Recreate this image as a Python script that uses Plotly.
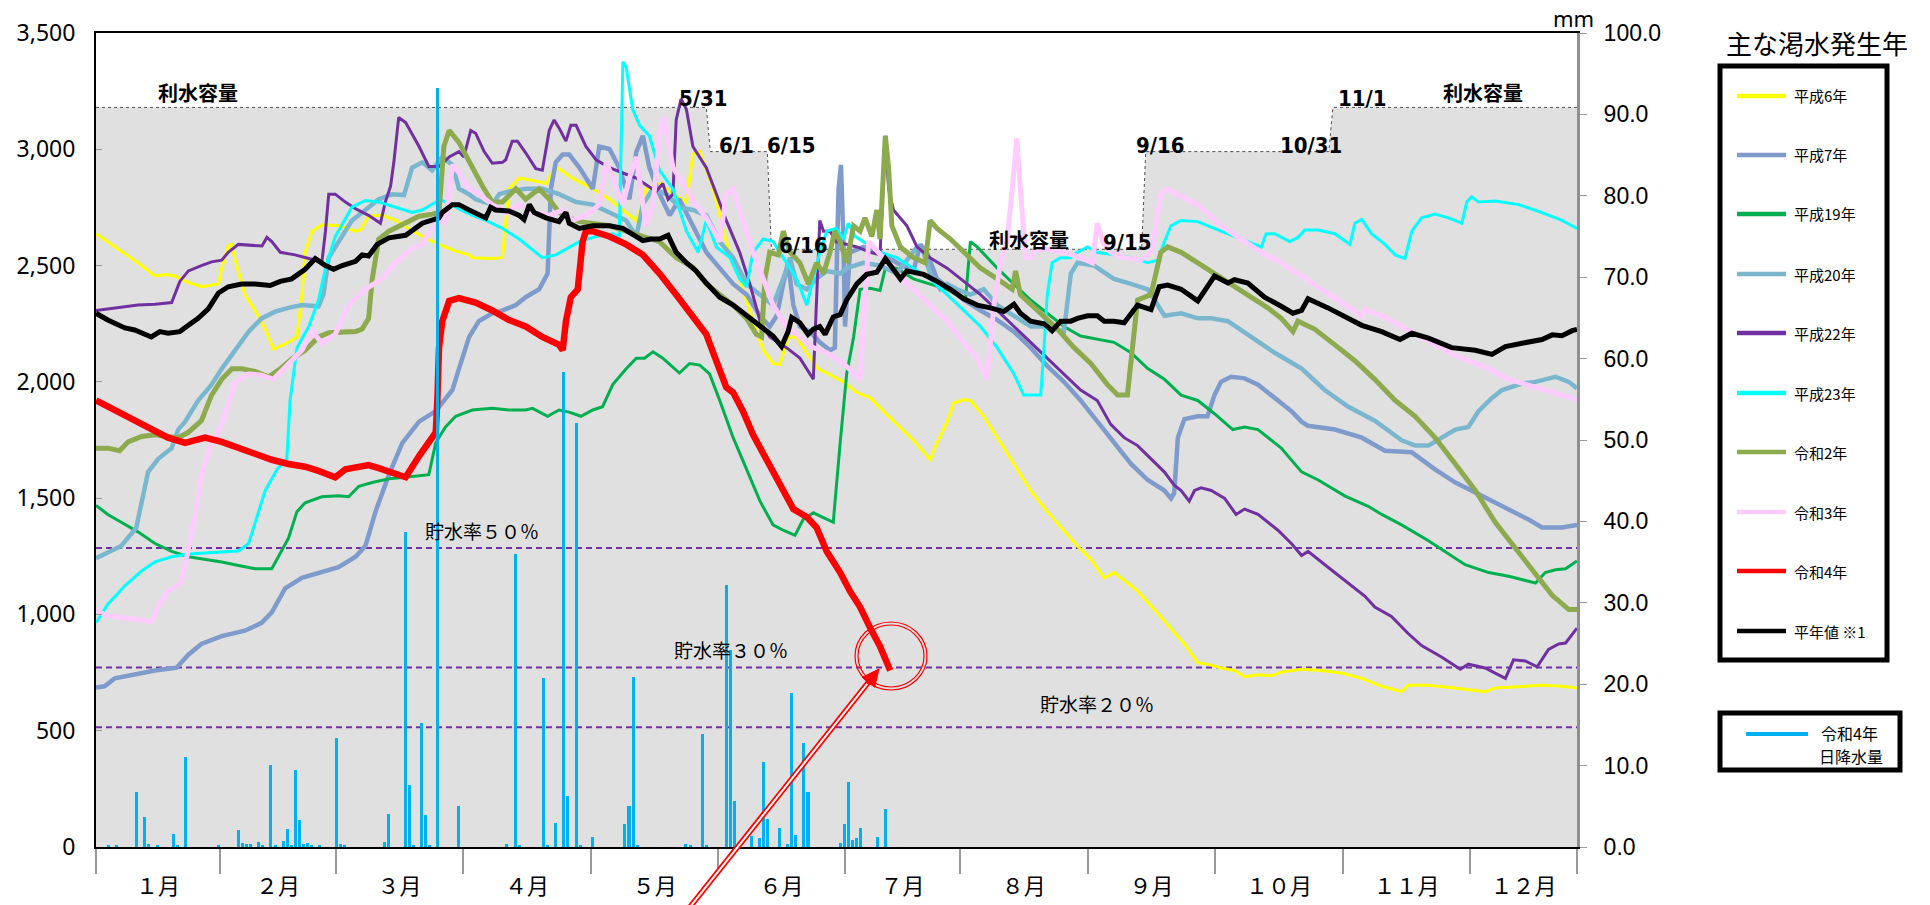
import plotly.graph_objects as go

# ---------------- data ----------------
MONTH_LABELS = ["１月", "２月", "３月", "４月", "５月", "６月", "７月", "８月", "９月", "１０月", "１１月", "１２月"]
MONTH_EDGES = [1, 31.5, 60, 91.2, 122.7, 153.9, 185.1, 213.3, 244.8, 276, 307.5, 338.7, 365]

# 利水容量 (step) : day-of-year / value
CAP_DAYS = [1, 151, 152, 166, 167, 258, 259, 304, 305, 365]
CAP_VALS = [3180, 3180, 2990, 2990, 2570, 2570, 2990, 2990, 3180, 3180]

RATIO_LEVELS = [1286, 771.6, 514.4]
RATIO_LABELS = ["貯水率５０％", "貯水率３０％", "貯水率２０％"]

# 令和4年 日降水量 (mm)
RAIN_DAYS = [4, 6, 11, 13, 14, 16, 20, 21, 23, 31, 36, 37, 38, 39, 41, 42, 44, 45, 47, 48, 49, 50, 51, 52, 53,
             54, 56, 60, 61, 62, 72, 73, 77, 78, 79, 81, 82, 83, 85, 90, 102, 104, 105, 111, 112, 114, 116, 117,
             119, 120, 123, 131, 132, 133, 134, 146, 147, 150, 151, 156, 157, 158, 162, 164, 165, 166, 169, 171,
             172, 173, 175, 176, 184, 185, 186, 187, 188, 189, 193, 195]
RAIN_MM = [0.3, 0.3, 6.7, 3.7, 0.4, 0.3, 1.6, 0.3, 11.0, 0.3, 2.1, 0.5, 0.4, 0.4, 0.6, 0.3, 10.1, 0.3, 0.7, 2.2, 0.3,
           9.5, 3.3, 0.4, 0.5, 0.3, 0.3, 13.4, 0.4, 0.3, 0.6, 4.1, 38.7, 7.6, 0.3, 15.2, 3.9, 0.3, 93.2, 5.0, 0.4,
           36.0, 0.3, 20.8, 0.3, 2.9, 58.3, 6.3, 52.1, 0.3, 1.2, 2.8, 5.0, 20.9, 0.3, 0.4, 0.3, 13.9, 0.3, 32.2,
           24.2, 5.6, 1.4, 1.1, 10.5, 3.5, 2.3, 0.4, 18.9, 1.5, 12.8, 6.7, 0.5, 2.8, 8.0, 0.9, 1.1, 2.3, 1.2, 4.7]

# 貯水量 series : (day-of-year, value)
H6 = [(1, 2637), (3.9, 2603), (7.2, 2562), (11.3, 2512), (15.5, 2455), (18.3, 2462), (20.4, 2455), (23.7, 2427),
      (27, 2409), (31.1, 2421), (31.9, 2489), (33.5, 2584), (34.3, 2591), (35.2, 2523), (37.6, 2375), (40.1, 2307),
      (42.6, 2227), (44.6, 2141), (47.5, 2163), (50.4, 2193), (51.6, 2375), (52.4, 2557), (54.1, 2648), (56.5, 2675),
      (60.6, 2671), (64.8, 2648), (66, 2653), (68, 2712), (71.3, 2716), (74.6, 2694), (77.9, 2660), (81.2, 2625),
      (85.3, 2591), (89.4, 2562), (92.7, 2546), (93.5, 2534), (98.4, 2530), (100.9, 2534), (102.5, 2830),
      (105, 2876), (109.1, 2864), (111.6, 2853), (114, 2926), (118.1, 2876), (123.1, 2830), (127.2, 2785),
      (131.3, 2728), (133.8, 2694), (135, 2751), (136.2, 2830), (139.5, 2853), (142.8, 2807), (146.1, 2773),
      (147.7, 2978), (149.4, 2990), (152.7, 2830), (155.9, 2603), (159.2, 2443), (162.5, 2261), (165, 2136),
      (167.4, 2079), (169.1, 2075), (171.1, 2193), (173.2, 2193), (175.7, 2125), (178.5, 2056), (180.6, 2038),
      (184.7, 2000), (188, 1954), (191.3, 1931), (194.5, 1874), (197.8, 1817), (201.9, 1749), (206, 1665),
      (207.7, 1738), (210.2, 1829), (211.8, 1909), (214.3, 1924), (215.9, 1920), (219.2, 1852), (222.5, 1760),
      (226.6, 1647), (230.7, 1533), (234.8, 1442), (238.9, 1362), (242.2, 1294), (245.5, 1237), (248.8, 1157),
      (251.2, 1180), (253.7, 1146), (257, 1101), (261.1, 1021), (265.2, 941), (268.5, 873), (271.8, 793),
      (275.1, 782), (277.5, 770), (280.8, 759), (283.3, 732), (286.6, 741), (289.9, 736), (292.3, 752),
      (297.3, 764), (302.2, 759), (307.1, 748), (312.1, 725), (317, 691), (321.9, 668), (323.5, 695), (328.5, 695),
      (335, 684), (342.4, 668), (344.9, 684), (351.5, 691), (356.4, 695), (361.3, 691), (365, 684)]

H7 = [(1, 686), (3.1, 691), (5.6, 725), (9.7, 741), (15.5, 759), (20.8, 771), (23.7, 827), (26.9, 873), (31.9, 907),
      (37.6, 930), (41.7, 964), (44.2, 1009), (47.5, 1112), (51.6, 1157), (56.5, 1180), (60.6, 1203), (64.8, 1248),
      (67.2, 1294), (69.7, 1442), (73, 1601), (76.3, 1738), (80.4, 1829), (84.5, 1874), (88.6, 1965), (90.2, 2056),
      (92.7, 2193), (95.1, 2261), (98.4, 2295), (100.9, 2307), (104.2, 2330), (106.6, 2364), (109.9, 2398),
      (112, 2466), (112.8, 2830), (114, 2944), (115.7, 2978), (117.3, 2978), (119.8, 2921), (123.1, 2830),
      (124.7, 3012), (127.2, 3001), (129.6, 2921), (132.1, 2785), (133.8, 2989), (135.4, 3058), (137, 2921),
      (139.5, 2807), (142, 2716), (144.4, 2785), (147.7, 2671), (151, 2557), (154.3, 2489), (157.6, 2421),
      (160.9, 2375), (164.2, 2284), (166.6, 2238), (168.3, 2284), (169.9, 2421), (171.1, 2512), (172.4, 2330),
      (174, 2238), (176.5, 2216), (178.9, 2170), (181.4, 2136), (182.6, 2147), (183.5, 2830), (184.1, 2933),
      (184.7, 2603), (185.1, 2238), (186.3, 2557), (189.6, 2580), (193.7, 2557), (197.8, 2512), (201.9, 2477),
      (203.6, 2591), (205.2, 2557), (207.7, 2443), (211, 2398), (214.3, 2352), (218.4, 2307), (222.5, 2266),
      (226.6, 2216), (230.7, 2147), (234.8, 2068), (238.9, 2000), (243, 1920), (247.1, 1829), (251.2, 1738),
      (255.4, 1647), (259.5, 1578), (263.6, 1533), (265.2, 1499), (266, 1522), (266.9, 1760), (268.5, 1840),
      (271.8, 1852), (274.2, 1852), (275.9, 1943), (277.5, 2000), (280, 2022), (283.3, 2015), (286.6, 1988),
      (290.7, 1931), (294.8, 1874), (297.3, 1829), (298.9, 1811), (305.5, 1795), (312.1, 1760), (317.8, 1704),
      (324.4, 1697), (330.1, 1624), (335.1, 1567), (341.6, 1510), (348.2, 1453), (353.1, 1408), (356.4, 1374),
      (361.3, 1374), (365, 1385)]

H19 = [(1, 1469), (3.9, 1430), (7.2, 1396), (11.3, 1355), (15.5, 1305), (19.6, 1271), (23.7, 1248), (27.8, 1237),
       (31.9, 1225), (36, 1210), (40.1, 1196), (44.2, 1196), (45.9, 1248), (48.3, 1328), (50.4, 1442), (52.4, 1480),
       (56.5, 1506), (60.6, 1510), (63.1, 1506), (65.6, 1551), (68.9, 1567), (73, 1583), (77.1, 1590), (81.2, 1597),
       (82.8, 1601), (84.5, 1738), (86.9, 1806), (89.4, 1852), (92.7, 1874), (93.5, 1879), (98.4, 1886),
       (102.5, 1879), (106.6, 1879), (108.3, 1886), (112, 1852), (114.8, 1879), (117.3, 1870), (120.2, 1852),
       (123.1, 1879), (125.5, 1893), (128, 1988), (131.3, 2056), (133.8, 2102), (135.8, 2102), (137.9, 2129),
       (140.3, 2102), (144.4, 2038), (146.9, 2079), (149.4, 2072), (151.8, 2034), (154.3, 1920), (157.6, 1760),
       (160.9, 1624), (164.2, 1487), (167.4, 1385), (169.9, 1362), (172.8, 1340), (174.8, 1408), (177.3, 1437),
       (179.8, 1415), (182.2, 1396), (183.9, 1738), (185.5, 2034), (187.2, 2193), (188.8, 2398), (191.3, 2402),
       (193.7, 2393), (195, 2489), (197.8, 2489), (201.9, 2443), (206, 2421), (210.2, 2398), (213.4, 2364),
       (214.7, 2352), (215.9, 2603), (217.6, 2580), (222.5, 2489), (226.6, 2421), (230.7, 2352), (234.8, 2295),
       (238.9, 2238), (243, 2197), (247.1, 2182), (251.2, 2170), (255.4, 2125), (259.5, 2057), (263.6, 2011),
       (267.7, 1943), (271.8, 1920), (275.9, 1863), (280.4, 1795), (283.3, 1806), (286.6, 1795), (292.3, 1715),
       (297.3, 1613), (301.4, 1578), (307.9, 1510), (313.7, 1465), (317, 1430), (321.9, 1385), (328.5, 1317),
       (333.4, 1260), (337.5, 1214), (343.3, 1180), (348.2, 1164), (354.8, 1135), (357.2, 1180), (359.7, 1192),
       (362.2, 1196), (365, 1230)]

H20 = [(1, 1242), (3.9, 1264), (7.2, 1294), (10.9, 1373), (12.2, 1487), (13.8, 1612), (16.3, 1669), (19.6, 1715),
       (21.2, 1795), (22.9, 1829), (26.1, 1920), (29.4, 1988), (31.9, 2056), (35.2, 2136), (38.5, 2216),
       (41.7, 2273), (45, 2302), (48.3, 2318), (51.6, 2330), (55.7, 2325), (56.9, 2375), (58.2, 2534), (60.6, 2603),
       (63.9, 2694), (67.2, 2739), (70.5, 2785), (73.8, 2807), (76.7, 2803), (78.7, 2921), (81.2, 2944),
       (83.6, 2910), (86.1, 2967), (88.6, 2933), (90.2, 2830), (92.7, 2807), (94.3, 2785), (98.4, 2762),
       (100.1, 2807), (102.5, 2819), (106.6, 2830), (110.7, 2830), (114.8, 2807), (119, 2773), (123.1, 2762),
       (127.2, 2728), (131.3, 2694), (133.8, 2625), (135.4, 2762), (137.9, 2830), (141.2, 2807), (144.4, 2751),
       (147.7, 2739), (151, 2716), (154.3, 2603), (157.6, 2534), (160.9, 2421), (164.2, 2375), (167.4, 2330),
       (169.9, 2443), (171.6, 2534), (173.2, 2421), (175.7, 2398), (178.1, 2443), (180.6, 2477), (183.9, 2466),
       (185.5, 2489), (189.6, 2512), (193.7, 2500), (197.8, 2466), (202.8, 2580), (204.4, 2557), (206, 2466),
       (208.5, 2398), (210.2, 2421), (212.6, 2398), (215.9, 2375), (219.2, 2398), (222.5, 2330), (226.6, 2284),
       (230.7, 2238), (234.8, 2238), (237.3, 2227), (238.9, 2216), (240.6, 2466), (242.2, 2512), (246.3, 2500),
       (251.2, 2443), (255.4, 2421), (259.5, 2398), (263.6, 2284), (267.7, 2295), (271.8, 2273), (275.1, 2273),
       (279.2, 2261), (284.9, 2193), (290.7, 2125), (297.3, 2057), (303, 1965), (308.8, 1893), (315.3, 1833),
       (321.9, 1749), (325.2, 1726), (328.5, 1726), (331.8, 1760), (335.1, 1795), (338.3, 1806), (340.8, 1874),
       (344.1, 1931), (346.6, 1965), (351.5, 1993), (354.8, 2000), (359.7, 2022), (363, 2000), (365, 1972)]

H22 = [(1, 2307), (5.6, 2318), (11.3, 2330), (15.5, 2334), (19.6, 2341), (21.6, 2432), (23.7, 2477), (26.9, 2500),
       (29.4, 2516), (31.9, 2523), (33.5, 2557), (36, 2591), (40.1, 2584), (41.8, 2584), (43, 2621), (44.2, 2603),
       (46.3, 2557), (49.9, 2546), (54.9, 2523), (56.5, 2512), (57.4, 2648), (58.2, 2807), (59.8, 2807),
       (62.3, 2773), (64.8, 2744), (68, 2716), (70.9, 2682), (72.1, 2773), (73.4, 2841), (74.2, 2944),
       (75.4, 3137), (77.1, 3115), (80.4, 3012), (82.8, 2926), (85.3, 2926), (87.8, 2967), (90.2, 2990),
       (91.4, 2967), (93.1, 3081), (94.3, 3069), (96.4, 2990), (98.4, 2940), (100.9, 2944), (101.7, 2955),
       (103.3, 3035), (104.6, 3035), (106.6, 2985), (109.1, 2917), (110.7, 2910), (112.4, 3081), (113.6, 3126),
       (114.8, 3092), (116.5, 3035), (117.7, 3103), (119, 3103), (121.4, 3012), (123.9, 2955), (127.2, 2921),
       (130.5, 2898), (133.8, 2876), (136.2, 2848), (138.7, 2819), (140.3, 2853), (141.6, 2785), (142.8, 2807),
       (143.6, 3126), (144.8, 3217), (146.1, 3172), (147.7, 3012), (151, 2921), (153.5, 2807), (155.9, 2694),
       (159.2, 2557), (161.7, 2421), (164.2, 2261), (166.6, 2193), (170.7, 2147), (174, 2102), (177.3, 2011),
       (178.1, 2330), (178.9, 2694), (179.8, 2648), (181.4, 2648), (183, 2603), (185.5, 2591), (188, 2580),
       (191.3, 2557), (193.7, 2546), (195, 3058), (195.8, 2830), (197, 2739), (200.3, 2671), (202.8, 2580),
       (206, 2534), (210.2, 2489), (214.3, 2432), (218.4, 2375), (222.5, 2307), (226.6, 2238), (230.7, 2170),
       (234.8, 2102), (238.9, 2034), (243, 1965), (247.1, 1920), (250.4, 1817), (253.7, 1760), (257, 1726),
       (260.3, 1669), (263.6, 1612), (266, 1556), (267.7, 1533), (269.7, 1487), (271, 1533), (272.6, 1544),
       (275.1, 1533), (278.4, 1499), (281.2, 1430), (283.3, 1453), (286.6, 1430), (291.5, 1362), (294.8, 1305),
       (297.3, 1253), (298.9, 1271), (303.8, 1203), (308.8, 1135), (312.9, 1078), (315.3, 1032), (319.4, 991),
       (323.5, 918), (326.8, 866), (331.8, 816), (336.3, 764), (338.3, 786), (342.4, 770), (347.4, 725),
       (349.4, 805), (352.3, 800), (355.2, 775), (358, 850), (360.5, 873), (362.2, 877), (365, 941)]

H23 = [(1, 964), (3.9, 1044), (8.1, 1123), (12.2, 1187), (15.5, 1226), (19.6, 1248), (23.7, 1260), (27.8, 1264),
       (31.9, 1269), (36, 1273), (38.5, 1305), (40.1, 1396), (42.6, 1533), (45.5, 1624), (47.9, 1669), (48.7, 1920),
       (50.4, 2147), (53.3, 2238), (55.7, 2352), (57.4, 2489), (59.8, 2625), (63.9, 2751), (67.2, 2780),
       (70.5, 2773), (74.6, 2751), (78.7, 2728), (81.2, 2739), (84.5, 2773), (86.1, 2780), (88.6, 2762),
       (90.2, 2744), (93.5, 2716), (96.8, 2694), (100.9, 2660), (105, 2614), (108.3, 2569), (110.7, 2534),
       (114, 2546), (116.5, 2569), (119.8, 2603), (123.9, 2625), (128, 2637), (129.6, 2625), (130.5, 3376),
       (131.3, 3354), (132.9, 3172), (134.6, 3103), (137, 3058), (139.5, 2910), (142.8, 2830), (146.1, 2648),
       (149, 2557), (151, 2694), (153.5, 2580), (156.8, 2534), (159.2, 2443), (160.9, 2409), (162.5, 2557),
       (165, 2614), (167.4, 2603), (169.9, 2534), (173.2, 2443), (175.7, 2330), (177.3, 2443), (178.9, 2557),
       (180.6, 2648), (183, 2660), (184.7, 2614), (185.9, 2682), (187.6, 2625), (189.6, 2603), (193.7, 2557),
       (197.8, 2534), (201.9, 2489), (206, 2443), (210.2, 2375), (214.3, 2307), (218.4, 2238), (222.5, 2147),
       (226.6, 2034), (229, 1943), (230.7, 1943), (233.2, 1943), (234, 2147), (234.8, 2375), (236, 2512),
       (238.1, 2534), (240.6, 2534), (242.2, 2557), (244.7, 2580), (247.1, 2557), (251.2, 2546), (255.4, 2534),
       (259.5, 2512), (262, 2523), (263.6, 2603), (265.2, 2671), (267.7, 2694), (271.8, 2689), (277.5, 2648),
       (282.5, 2614), (287.4, 2580), (288.6, 2637), (290.7, 2637), (294.4, 2603), (296.4, 2621), (298.1, 2653),
       (301.4, 2653), (305.5, 2637), (309.2, 2591), (310.4, 2682), (312.1, 2698), (314.5, 2637), (317.8, 2591),
       (320.3, 2546), (322.7, 2530), (324.4, 2648), (326.8, 2705), (330.1, 2721), (333.4, 2705), (336.7, 2682),
       (337.9, 2773), (339.1, 2796), (340.8, 2773), (344.9, 2778), (350.7, 2762), (356.4, 2728), (361.3, 2694),
       (365, 2660)]

R2 = [(1, 1715), (3.9, 1715), (6.8, 1704), (8.9, 1742), (12.2, 1765), (15.5, 1772), (18.7, 1765), (21.2, 1760),
      (23.7, 1783), (26.9, 1833), (29.4, 1943), (31.9, 2011), (34.4, 2056), (36.8, 2056), (40.1, 2045),
      (43.4, 2022), (46.3, 2056), (49.1, 2098), (52.4, 2136), (55.7, 2193), (58.2, 2211), (61.5, 2216),
      (64.8, 2216), (66.4, 2227), (68, 2273), (68.9, 2443), (70.5, 2614), (73, 2648), (77.1, 2682), (80.4, 2712),
      (83.7, 2721), (85.3, 2728), (86.5, 3012), (87.8, 3081), (90.2, 3030), (93.5, 2921), (96, 2841), (98.4, 2773),
      (100.9, 2773), (104.2, 2830), (106.6, 2785), (109.9, 2830), (112.4, 2785), (114.8, 2728), (117.3, 2705),
      (119.8, 2689), (123.1, 2682), (127.2, 2671), (131.3, 2648), (135.4, 2625), (139.5, 2603), (143.6, 2534),
      (147.7, 2493), (151, 2421), (154.3, 2375), (157.6, 2330), (160.9, 2273), (163.3, 2204), (164.6, 2193),
      (165.4, 2443), (166.6, 2557), (168.7, 2546), (169.9, 2648), (171.6, 2557), (174, 2512), (176.1, 2421),
      (178.1, 2512), (179.8, 2466), (181.4, 2557), (182.6, 2648), (183.9, 2603), (185.5, 2512), (187.2, 2671),
      (188.8, 2648), (190, 2705), (191.7, 2625), (192.9, 2739), (193.7, 2614), (195, 3058), (195.8, 2921),
      (196.6, 2671), (198.7, 2580), (201.9, 2534), (204.8, 2512), (206, 2694), (207.7, 2660), (211, 2614),
      (214.3, 2557), (218.4, 2489), (222.5, 2443), (226.2, 2398), (227, 2477), (228.2, 2375), (232.4, 2307),
      (237.3, 2227), (241.4, 2147), (245.5, 2079), (249.6, 1988), (252.1, 1943), (254.5, 1943), (255.8, 2147),
      (257, 2352), (260.3, 2375), (262.7, 2557), (264.4, 2580), (267.7, 2557), (271.8, 2512), (276.7, 2455),
      (280.8, 2409), (284.9, 2364), (289, 2318), (292.3, 2273), (295.2, 2216), (296.4, 2261), (300.5, 2227),
      (305.5, 2159), (310.4, 2091), (315.3, 2011), (320.3, 1920), (325.2, 1852), (330.1, 1760), (335.1, 1647),
      (340, 1533), (344.9, 1396), (349.8, 1283), (354.8, 1169), (358.9, 1082), (363, 1021), (365, 1021)]

R3 = [(1, 1021), (3.1, 998), (7.2, 987), (11.3, 975), (14.6, 969), (16.3, 1032), (18.7, 1101), (22, 1135),
      (23.7, 1294), (25.3, 1419), (26.9, 1601), (29, 1715), (31.9, 1817), (35.2, 2000), (38.5, 2034), (41.7, 2029),
      (44.6, 2011), (48.3, 2079), (51.6, 2136), (54.1, 2220), (56.5, 2166), (59.8, 2204), (63.1, 2330),
      (67.2, 2398), (71.3, 2443), (74.6, 2512), (78.7, 2575), (81.2, 2591), (82.8, 2637), (85.3, 2694),
      (86.9, 2682), (88.6, 2933), (90.2, 2900), (92.7, 2830), (95.1, 2807), (98.4, 2762), (101.7, 2728),
      (105, 2762), (108.3, 2728), (112.4, 2716), (115.7, 2739), (118.1, 2694), (121.4, 2716), (124.7, 2762),
      (126.4, 2944), (128, 2876), (130.5, 2762), (132.1, 2876), (133.8, 2967), (136.2, 2671), (137.9, 2762),
      (139.5, 3058), (140.7, 3137), (142.8, 2921), (146.1, 2830), (148.5, 2762), (151, 2705), (152.7, 2648),
      (154.3, 2603), (155.9, 2807), (157.6, 2830), (160, 2694), (162.5, 2557), (165, 2443), (167.4, 2330),
      (170.7, 2238), (174, 2193), (177.3, 2147), (180.6, 2125), (184.7, 2079), (188.8, 2011), (189.6, 2261),
      (190.9, 2603), (192.1, 2580), (194.5, 2534), (197.8, 2466), (201.9, 2398), (206, 2330), (210.2, 2261),
      (214.3, 2170), (217.6, 2102), (220, 2011), (221.7, 2330), (223.3, 2512), (224.9, 2603), (226.2, 2830),
      (227.3, 3047), (228.2, 2830), (229.5, 2534), (230.7, 2534), (231.9, 2569), (234.8, 2569), (238.9, 2557),
      (243, 2534), (245.9, 2512), (247.1, 2682), (248.4, 2603), (250.4, 2557), (253.7, 2534), (257.8, 2523),
      (260.3, 2557), (261.5, 2671), (262.7, 2807), (264.4, 2830), (267.7, 2796), (271.8, 2762), (277.5, 2671),
      (282.5, 2614), (287.4, 2557), (292.3, 2512), (297.3, 2455), (302.2, 2398), (307.1, 2341), (312.1, 2284),
      (312.9, 2311), (317, 2284), (321.9, 2238), (326.8, 2193), (331.8, 2147), (335.1, 2113), (338.3, 2091),
      (343.3, 2057), (348.2, 2011), (354.8, 1977), (359.7, 1954), (365, 1924)]

R4 = [(1, 1920), (3.9, 1893), (7.2, 1863), (11.3, 1829), (15.5, 1790), (18.7, 1760), (22.9, 1738), (27.8, 1760),
      (31.9, 1742), (36, 1715), (40.1, 1692), (44.2, 1665), (48.3, 1647), (52.4, 1635), (55.7, 1617), (59.8, 1590),
      (62.3, 1624), (64.8, 1635), (68, 1642), (70.5, 1629), (73, 1613), (77.1, 1590), (80.4, 1681), (82.8, 1738),
      (84.5, 1783), (84.9, 1920), (85.3, 2147), (86.1, 2261), (87.8, 2348), (90.2, 2360), (94.3, 2341),
      (98.4, 2307), (102.5, 2266), (106.6, 2238), (110.7, 2193), (114.8, 2159), (115.7, 2136), (116.5, 2261),
      (117.7, 2364), (119.4, 2398), (120.6, 2603), (121.4, 2648), (123.1, 2648), (127.2, 2625), (131.3, 2591),
      (135.4, 2546), (139.5, 2466), (143.6, 2375), (147.7, 2284), (151, 2204), (152.7, 2125), (155.9, 1977),
      (157.6, 1954), (160, 1874), (162.5, 1772), (165, 1692), (167.4, 1624), (169.9, 1533), (172.4, 1453),
      (175.7, 1419), (178.1, 1374), (180.6, 1271), (183.9, 1180), (186.3, 1100), (188.8, 1032), (191.3, 941),
      (193.7, 862), (196.2, 759)]

NORMAL = [(1, 2295), (3.9, 2266), (8.1, 2232), (10.5, 2223), (14.6, 2193), (16.7, 2216), (18.7, 2209),
          (21.6, 2216), (23.7, 2243), (26.1, 2273), (28.6, 2314), (31.1, 2382), (33.5, 2409), (36.8, 2421),
          (40.1, 2421), (43.8, 2414), (46.3, 2432), (49.1, 2443), (52.4, 2484), (54.9, 2530), (57.4, 2500),
          (59.4, 2484), (61.5, 2500), (64.8, 2518), (66.4, 2546), (68, 2541), (70.1, 2591), (73, 2619),
          (77.1, 2630), (78.7, 2648), (81.2, 2682), (85.3, 2705), (86.1, 2728), (88.6, 2762), (90.2, 2762),
          (92.7, 2739), (95.1, 2717), (96.8, 2705), (98, 2751), (99.2, 2739), (102.5, 2735), (105, 2716),
          (106.2, 2698), (107.5, 2762), (108.7, 2728), (111.6, 2705), (114.8, 2689), (116.5, 2728), (117.3, 2682),
          (119.8, 2660), (123.1, 2671), (127.2, 2671), (130.5, 2660), (132.9, 2637), (135.4, 2607), (137.4, 2614),
          (139.5, 2614), (141.6, 2630), (143.6, 2557), (146.1, 2512), (148.5, 2477), (151, 2425), (154.3, 2364),
          (157.6, 2330), (160.9, 2284), (164.2, 2238), (167.4, 2197), (169.5, 2152), (171.1, 2216), (172, 2277),
          (174, 2254), (176, 2204), (177.3, 2227), (178.9, 2238), (180.2, 2204), (182.2, 2279), (183.9, 2289),
          (185.5, 2352), (188, 2421), (190.4, 2462), (192.9, 2471), (195, 2530), (196.6, 2489), (198.7, 2443),
          (200.3, 2477), (204.4, 2462), (207.7, 2432), (211, 2398), (214.3, 2357), (217.6, 2330), (220.8, 2318),
          (224.1, 2302), (226.6, 2334), (228.2, 2295), (230.7, 2261), (234, 2250), (236, 2220), (238.1, 2261),
          (240.6, 2261), (242.2, 2273), (244.7, 2284), (247.1, 2284), (248.8, 2261), (251.2, 2261), (253.7, 2254),
          (255.4, 2295), (257, 2330), (260.3, 2311), (262.3, 2409), (264.4, 2416), (267.7, 2398), (271.8, 2348),
          (275.9, 2455), (279.2, 2425), (280.8, 2439), (284.1, 2425), (288.2, 2364), (292.3, 2325), (295.2, 2295),
          (297.3, 2307), (298.9, 2357), (303.8, 2318), (307.1, 2289), (312.1, 2243), (317, 2216), (321.5, 2182),
          (324.4, 2209), (328.5, 2188), (334.2, 2147), (340, 2136), (344.1, 2118), (347.4, 2152), (351.5, 2166),
          (356.4, 2182), (358.9, 2202), (361.3, 2198), (363.8, 2220), (365, 2225)]

SERIES_NAMES = ["平成6年", "平成7年", "平成19年", "平成20年", "平成22年", "平成23年", "令和2年", "令和3年", "令和4年", "平年値 ※1"]
SERIES_DATA = [H6, H7, H19, H20, H22, H23, R2, R3, R4, NORMAL]

# ---------------- styles ----------------
COLORS = ["#FFFF00", "#7F9BCB", "#00B050", "#7BB6CF", "#7030A0", "#00FFFF", "#8DAA4E", "#FFCCFF", "#FF0000", "#000000"]
WIDTHS = [3, 4.5, 3, 4.5, 3, 3, 5, 5, 6.5, 5]
RAIN_COLOR = "#00B0F0"
FONT_JP = "Noto Sans CJK JP"

# plot-area geometry in pixels (for layout-only items placed in paper coords)
L, T, W, H = 96, 33, 1481, 814
FIG_W, FIG_H = 1930, 905


def px(x):
    return (x - L) / W


def py(y):
    return (T + H - y) / H


fig = go.Figure()

# storage capacity area
fig.add_trace(go.Scatter(x=CAP_DAYS, y=CAP_VALS, mode="lines", fill="tozeroy", fillcolor="#E0E0E0",
                         line=dict(color="#505050", width=1, dash="dot"), hoverinfo="skip", showlegend=False))

# storage ratio dashed lines
for lvl in RATIO_LEVELS:
    fig.add_trace(go.Scatter(x=[MONTH_EDGES[0], MONTH_EDGES[-1]], y=[lvl, lvl], mode="lines",
                             line=dict(color="#7030A0", width=2, dash="6px,4px"), hoverinfo="skip",
                             showlegend=False))

# series lines
for name, data, col, wd in zip(SERIES_NAMES, SERIES_DATA, COLORS, WIDTHS):
    xs = [p[0] for p in data]
    ys = [p[1] for p in data]
    fig.add_trace(go.Scatter(x=xs, y=ys, mode="lines", name=name, line=dict(color=col, width=wd),
                             showlegend=False))

# rainfall bars (right axis)
fig.add_trace(go.Bar(x=RAIN_DAYS, y=RAIN_MM, yaxis="y2", marker=dict(color=RAIN_COLOR, line=dict(width=0)),
                     width=0.75, name="令和4年 日降水量", showlegend=False))

mids = [(MONTH_EDGES[i] + MONTH_EDGES[i + 1]) / 2 for i in range(len(MONTH_LABELS))]

fig.update_layout(
    width=FIG_W, height=FIG_H, autosize=False,
    margin=dict(l=L, r=FIG_W - L - W, t=T, b=FIG_H - T - H, pad=0, autoexpand=False),
    paper_bgcolor="white", plot_bgcolor="white",
    font=dict(family=FONT_JP, color="black"),
    bargap=0,
    xaxis=dict(range=[MONTH_EDGES[0], MONTH_EDGES[-1]], tickmode="array", tickvals=mids, ticktext=MONTH_LABELS,
               ticks="outside", ticklen=19, tickcolor="rgba(0,0,0,0)", showgrid=False, zeroline=False,
               showline=True, linecolor="black", linewidth=2, mirror=True, automargin=False,
               tickfont=dict(family=FONT_JP, size=22, color="black"),
               minor=dict(tickmode="array", tickvals=MONTH_EDGES, ticks="outside", ticklen=25, tickwidth=2,
                          tickcolor="#999999", showgrid=False)),
    yaxis=dict(range=[0, 3500], dtick=500, tickformat=",", ticks="inside", ticklen=6, tickcolor="#999999",
               showgrid=False, zeroline=False, showline=True, linecolor="black", linewidth=2, automargin=False,
               tickfont=dict(family="Noto Sans", size=23, color="black"), ticklabelstandoff=14),
    yaxis2=dict(range=[0, 100], dtick=10, tickformat=".1f", overlaying="y", side="right", ticks="outside",
                ticklen=7, tickcolor="#999999", showgrid=False, zeroline=False, showline=True,
                linecolor="#909090", linewidth=3, automargin=False,
                tickfont=dict(family="Liberation Sans, Arial", size=23, color="black"), ticklabelstandoff=12),
)

ann = []


def add_text(text, x, y, size, family=FONT_JP, xanchor="center", yanchor="middle"):
    ann.append(dict(text=text, x=px(x), y=py(y), xref="paper", yref="paper", showarrow=False,
                    xanchor=xanchor, yanchor=yanchor, font=dict(family=family, size=size, color="black")))


# capacity labels
for (xx, yy) in [(198, 92), (1029, 239), (1483, 92)]:
    add_text("<b>利水容量</b>", xx, yy, 20)
DATE_FONT = "Liberation Sans Narrow, DejaVu Sans Condensed, Arial Narrow"
for t, xx, yy in [("5/31", 703.5, 99), ("6/1", 736, 146), ("6/15", 791, 146), ("6/16", 803, 245),
                  ("9/15", 1127.5, 242), ("9/16", 1160.5, 146), ("10/31", 1310.5, 146), ("11/1", 1362.5, 99)]:
    add_text("<b>" + t + "</b>", xx, yy, 22, DATE_FONT)

# ratio labels
for t, (xx, yy) in zip(RATIO_LABELS, [(482, 530), (731, 649), (1097, 703)]):
    add_text(t, xx, yy, 19)

add_text("mm", 1573, 18, 22, "Noto Sans")

# legend (custom)
add_text("主な渇水発生年", 1817, 42, 26)
shapes = []
shapes.append(dict(type="rect", xref="paper", yref="paper", x0=px(1720), x1=px(1887), y0=py(660), y1=py(66),
                   line=dict(color="black", width=5), fillcolor="white", layer="above"))
leg_y = [96, 155, 214, 274, 333, 393, 452, 512, 571, 631]
for name, col, yy in zip(SERIES_NAMES, COLORS, leg_y):
    shapes.append(dict(type="line", xref="paper", yref="paper", x0=px(1737), x1=px(1786), y0=py(yy), y1=py(yy),
                       line=dict(color=col, width=4.5), layer="above"))
    add_text(name, 1792, yy, 15, FONT_JP, xanchor="left")

shapes.append(dict(type="rect", xref="paper", yref="paper", x0=px(1720), x1=px(1900), y0=py(770), y1=py(713),
                   line=dict(color="black", width=5), fillcolor="white", layer="above"))
shapes.append(dict(type="line", xref="paper", yref="paper", x0=px(1746), x1=px(1808), y0=py(734), y1=py(734),
                   line=dict(color=RAIN_COLOR, width=4), layer="above"))
add_text("令和4年", 1849, 733, 16)
add_text("日降水量", 1851, 756, 16)

# red highlight: double circle + double arrow
for dx in (0, 3):
    shapes.append(dict(type="circle", xref="paper", yref="paper", x0=px(855 + dx), x1=px(927 - dx),
                       y0=py(690 - dx), y1=py(622 + dx), line=dict(color="red", width=1.2), layer="above"))
tail = (686, 912)
tip = (879, 669)
vx, vy = tip[0] - tail[0], tip[1] - tail[1]
ln = (vx ** 2 + vy ** 2) ** 0.5
ux, uy = vx / ln, vy / ln
bx, by = tip[0] - 17 * ux, tip[1] - 17 * uy
shapes.append(dict(type="line", xref="paper", yref="paper", x0=px(tail[0]), y0=py(tail[1]), x1=px(bx), y1=py(by),
                   line=dict(color="red", width=5.5), layer="above"))
shapes.append(dict(type="line", xref="paper", yref="paper", x0=px(tail[0]), y0=py(tail[1]),
                   x1=px(bx - 2 * ux), y1=py(by - 2 * uy), line=dict(color="white", width=2), layer="above"))
nx, ny = -uy, ux
p1 = (bx + 8 * nx, by + 8 * ny)
p2 = (bx - 8 * nx, by - 8 * ny)
path = "M {} {} L {} {} L {} {} Z".format(px(tip[0]), py(tip[1]), px(p1[0]), py(p1[1]), px(p2[0]), py(p2[1]))
shapes.append(dict(type="path", xref="paper", yref="paper", path=path, fillcolor="red",
                   line=dict(color="red", width=1), layer="above"))

fig.update_layout(annotations=ann, shapes=shapes)

fig.write_html("out.html", config={"displayModeBar": False},
               post_script="document.body.style.margin='0';document.body.style.overflow='hidden';")
